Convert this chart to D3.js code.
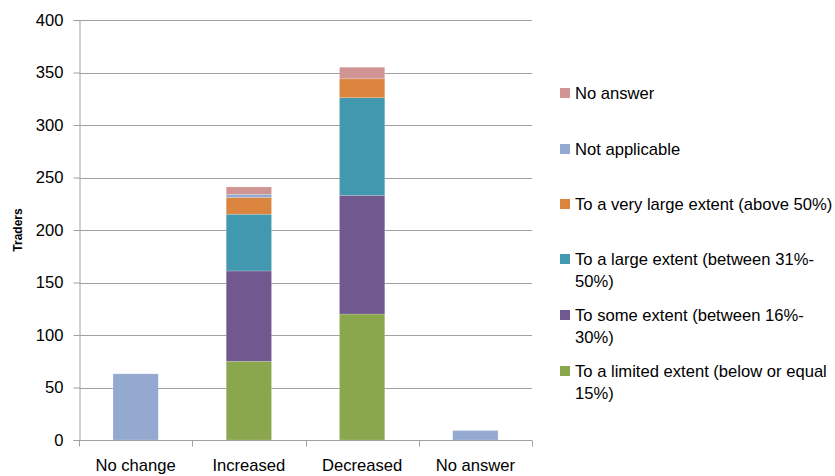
<!DOCTYPE html>
<html>
<head>
<meta charset="utf-8">
<script src="https://cdn.jsdelivr.net/npm/d3@7"></script>
<style>
  body { margin: 0; background: #fff; }
  svg text { font-family: "Liberation Sans", Arial, sans-serif; fill: #000; }
</style>
</head>
<body>
<svg id="chart" width="835" height="476"></svg>
<script>
// Categories along the x axis
const categories = ["No change", "Increased", "Decreased", "No answer"];

// Series, stacked bottom to top
const seriesNames = [
  "To a limited extent (below or equal 15%)",
  "To some extent (between 16%-30%)",
  "To a large extent (between 31%-50%)",
  "To a very large extent (above 50%)",
  "Not applicable",
  "No answer"
];
const limitedExtent   = [0, 75, 120, 0];
const someExtent      = [0, 86, 113, 0];
const largeExtent     = [0, 54, 93, 0];
const veryLargeExtent = [0, 16, 18, 0];
const notApplicable   = [63, 3, 0, 9];
const noAnswer        = [0, 7, 11, 0];

const seriesValues = [limitedExtent, someExtent, largeExtent, veryLargeExtent, notApplicable, noAnswer];
const seriesColors = ["#8aa74e", "#71588f", "#4198af", "#db843d", "#93a9cf", "#d09493"];

const yTicks = [0, 50, 100, 150, 200, 250, 300, 350, 400];

// Legend lines (label wrapped as drawn), top to bottom
const legendItems = [
  { series: 5, lines: ["No answer"] },
  { series: 4, lines: ["Not applicable"] },
  { series: 3, lines: ["To a very large extent (above 50%)"] },
  { series: 2, lines: ["To a large extent (between 31%-", "50%)"] },
  { series: 1, lines: ["To some extent (between 16%-", "30%)"] },
  { series: 0, lines: ["To a limited extent (below or equal", "15%)"] }
];
const legendRowY = [93, 149, 204, 259, 315, 371];

const svg = d3.select("#chart");
const margin = { left: 79, right: 303, top: 20, bottom: 36 };
const W = 835, H = 476;
const plotW = W - margin.left - margin.right;
const plotH = H - margin.top - margin.bottom;
const fontSize = 16.6;

const x = d3.scaleBand().domain(categories).range([0, plotW]).paddingInner(0.6).paddingOuter(0.3);
const xCat = d3.scaleBand().domain(categories).range([0, plotW]);
const y = d3.scaleLinear().domain([0, 400]).range([plotH, 0]);

const g = svg.append("g").attr("transform", `translate(${margin.left},${margin.top})`);

// Gridlines
g.append("g").selectAll("line").data(yTicks.filter(d => d > 0)).join("line")
  .attr("x1", 0).attr("x2", plotW)
  .attr("y1", d => Math.round(y(d)) + 0.5).attr("y2", d => Math.round(y(d)) + 0.5)
  .attr("stroke", "#a0a0a0").attr("stroke-width", 1);

// Stacked bars
const rows = categories.map((c, i) => {
  const r = { cat: c };
  seriesValues.forEach((s, k) => r["s" + k] = s[i]);
  return r;
});
const stack = d3.stack().keys(seriesValues.map((_, k) => "s" + k));
const layers = stack(rows);

g.append("g").selectAll("g").data(layers).join("g")
  .attr("fill", (d, k) => seriesColors[k])
  .selectAll("rect").data(d => d.filter(p => p[1] - p[0] > 0)).join("rect")
  .attr("x", d => x(d.data.cat))
  .attr("width", x.bandwidth())
  .attr("y", d => y(d[1]))
  .attr("height", d => y(d[0]) - y(d[1]))
  .attr("stroke", "rgba(255,255,255,0.25)")
  .attr("stroke-width", 0.7);

// Y axis
const yAxis = g.append("g").attr("transform", "translate(0.5,0)")
  .call(d3.axisLeft(y).tickValues(yTicks).tickSize(6).tickPadding(10));
yAxis.select(".domain").attr("stroke", "#a0a0a0");
yAxis.selectAll(".tick line").attr("stroke", "#a0a0a0");
yAxis.selectAll(".tick text").attr("font-size", fontSize).attr("fill", "#000")
  .attr("font-family", "Liberation Sans, Arial, sans-serif");

// X axis
const xAxisG = g.append("g").attr("transform", `translate(0,${plotH + 0.5})`);
xAxisG.append("line").attr("x1", 0).attr("x2", plotW).attr("stroke", "#a0a0a0");
xAxisG.selectAll("line.tk").data(categories.map((c, i) => i + 1).concat([0])).join("line")
  .attr("class", "tk")
  .attr("x1", i => Math.round(i * xCat.bandwidth()) + 0.5)
  .attr("x2", i => Math.round(i * xCat.bandwidth()) + 0.5)
  .attr("y1", 0).attr("y2", 6).attr("stroke", "#a0a0a0");
xAxisG.selectAll("text").data(categories).join("text")
  .attr("x", d => xCat(d) + xCat.bandwidth() / 2)
  .attr("y", 30)
  .attr("text-anchor", "middle")
  .attr("font-size", fontSize)
  .text(d => d);

// Y axis title
svg.append("text")
  .attr("transform", `translate(22,${margin.top + plotH / 2}) rotate(-90)`)
  .attr("text-anchor", "middle")
  .attr("font-size", 12).attr("font-weight", "bold")
  .text("Traders");

// Legend
const leg = svg.append("g");
legendItems.forEach((item, i) => {
  const gy = legendRowY[i];
  leg.append("rect").attr("x", 560).attr("y", gy - 5).attr("width", 10).attr("height", 10)
    .attr("fill", seriesColors[item.series]);
  item.lines.forEach((ln, j) => {
    leg.append("text").attr("x", 575).attr("y", gy + 6 + j * 22)
      .attr("font-size", fontSize).text(ln);
  });
});
</script>
</body>
</html>
